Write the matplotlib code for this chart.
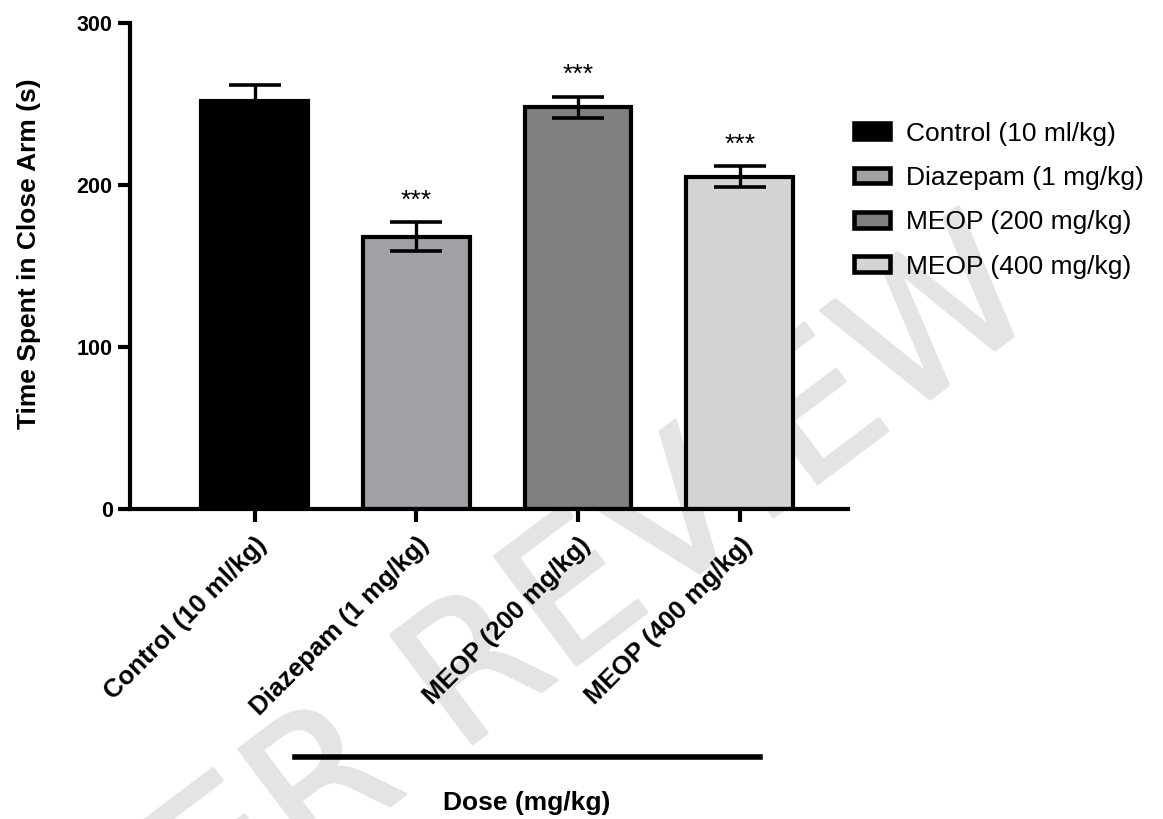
import matplotlib
matplotlib.use('Agg')
import matplotlib.pyplot as plt
import matplotlib.patheffects as pe
from matplotlib.patches import Patch

plt.rcParams['font.family'] = ['Liberation Sans', 'DejaVu Sans']

groups = ['Control (10 ml/kg)', 'Diazepam (1 mg/kg)', 'MEOP (200 mg/kg)', 'MEOP (400 mg/kg)']
means = [252, 168, 248, 205]
sems = [10, 9, 6.5, 6.5]
stars = ['', '***', '***', '***']
colors = ['#000000', '#a1a1a6', '#808080', '#d4d4d4']
yticks = [0, 100, 200, 300]

fig = plt.figure(figsize=(11.63, 8.19), dpi=100)
ax = fig.add_axes([0.1118, 0.3785, 0.6175, 0.5935])
ax.patch.set_alpha(0)

# faint watermark behind everything
fig.text(505 / 1163, 1 - 655 / 819, 'PEER REVIEW', fontsize=135, color='#e4e4e4', rotation=37,
         ha='center', va='center', zorder=-1, family=['Liberation Sans Narrow', 'DejaVu Sans'],
         path_effects=[pe.withStroke(linewidth=2, foreground='#e4e4e4')])

x = list(range(len(groups)))
ax.bar(x, means, width=0.66, color=colors, edgecolor='black', linewidth=3, zorder=2)
ax.errorbar(x, means, yerr=sems, fmt='none', ecolor='black', elinewidth=2.4,
            capsize=19, capthick=2.6, zorder=3)
for xi, m, s, st in zip(x, means, sems, stars):
    if st:
        ax.text(xi, m + s + 6, st, ha='center', va='bottom', fontsize=19)

ax.set_xlim(-0.77, 3.67)
ax.set_ylim(0, 300)
ax.set_yticks(yticks)
ax.set_xticks(x)
ax.set_xticklabels(groups, rotation=45, ha='right', rotation_mode='anchor',
                   fontsize=18.5, fontweight='bold')
for lab in ax.get_yticklabels():
    lab.set_fontweight('bold')
    lab.set_fontsize(15.5)
ax.tick_params(axis='both', width=3, length=9, direction='out')
ax.tick_params(axis='x', pad=8)
for side in ['top', 'right']:
    ax.spines[side].set_visible(False)
for side in ['left', 'bottom']:
    ax.spines[side].set_linewidth(3)

ax.set_ylabel('Time Spent in Close Arm (s)', fontsize=19, fontweight='bold')
ax.yaxis.set_label_coords(-0.124, 0.525)

# group bar and label under the tick labels
fig.add_artist(plt.Line2D([295 / 1163, 760 / 1163], [1 - 757 / 819, 1 - 757 / 819],
                          color='black', linewidth=4))
fig.text(527 / 1163, 1 - 803 / 819, 'Dose (mg/kg)', ha='center', va='center',
         fontsize=19, fontweight='bold')

handles = [Patch(facecolor=c, edgecolor='black', linewidth=3.3) for c in colors]
ax.legend(handles, groups, loc='upper left', bbox_to_anchor=(843 / 1163, 1 - 111 / 819),
          bbox_transform=fig.transFigure, borderaxespad=0, frameon=False,
          fontsize=19, handlelength=1.4, handleheight=0.55, labelspacing=0.77,
          handletextpad=0.6)

fig.savefig('out.png', dpi=100)
